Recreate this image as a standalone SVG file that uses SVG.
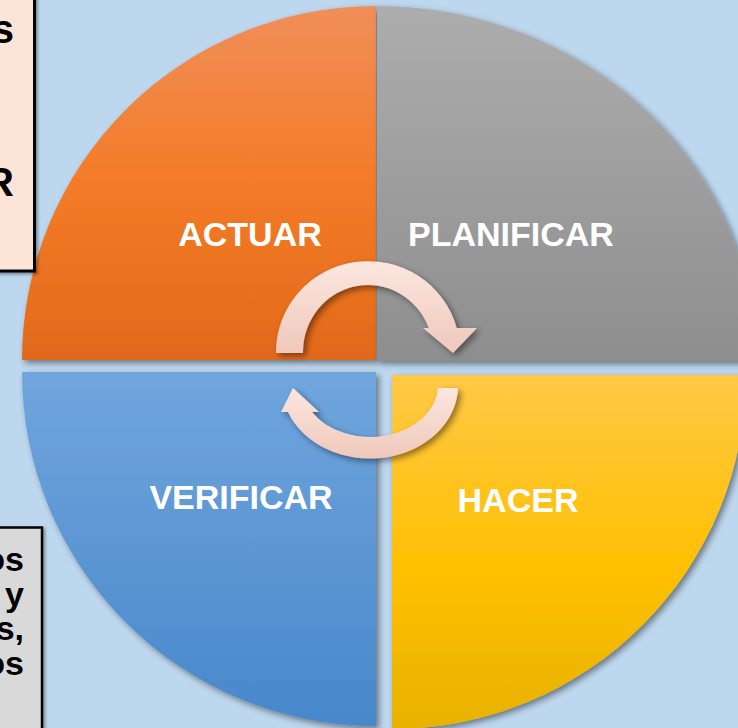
<svg xmlns="http://www.w3.org/2000/svg" width="738" height="728" viewBox="0 0 738 728">
  <defs>
    <linearGradient id="gOrange" x1="0" y1="0" x2="0" y2="1">
      <stop offset="0" stop-color="#F08F5A"/>
      <stop offset="0.5" stop-color="#F47B27"/>
      <stop offset="1" stop-color="#E2691A"/>
    </linearGradient>
    <linearGradient id="gGray" x1="0" y1="0" x2="0" y2="1">
      <stop offset="0" stop-color="#ADADAD"/>
      <stop offset="1" stop-color="#8E8E8E"/>
    </linearGradient>
    <linearGradient id="gBlue" x1="0" y1="0" x2="0" y2="1">
      <stop offset="0" stop-color="#70A6DD"/>
      <stop offset="1" stop-color="#4887CB"/>
    </linearGradient>
    <linearGradient id="gYellow" x1="0" y1="0" x2="0" y2="1">
      <stop offset="0" stop-color="#FFC847"/>
      <stop offset="0.55" stop-color="#FFC000"/>
      <stop offset="1" stop-color="#E8B200"/>
    </linearGradient>
    <linearGradient id="gArrow" x1="0" y1="0" x2="0" y2="1">
      <stop offset="0" stop-color="#FCE7DF"/>
      <stop offset="1" stop-color="#EFC8BB"/>
    </linearGradient>
    <filter id="shadow" x="-10%" y="-10%" width="130%" height="130%">
      <feDropShadow dx="3" dy="3" stdDeviation="3" flood-color="#000" flood-opacity="0.45"/>
    </filter>
    <filter id="boxShadow" x="-10%" y="-10%" width="130%" height="130%">
      <feDropShadow dx="2" dy="2" stdDeviation="1.5" flood-color="#000" flood-opacity="0.35"/>
    </filter>
  </defs>
  <style>
    .label { font-family: "Liberation Sans", Arial, sans-serif; font-weight: bold; font-size: 34px; fill: #FFFFFF; text-anchor: middle; }
    .side { font-family: "Liberation Sans", Arial, sans-serif; font-weight: bold; fill: #000000; text-anchor: end; }
    .top { font-size: 40px; }
    .bottom { font-size: 34px; }
    .quad { filter: url(#shadow); }
    .arrow { fill: url(#gArrow); filter: url(#shadow); }
  </style>
  <rect x="0" y="0" width="738" height="728" fill="#BDD7EE"/>

  <g id="actuar">
    <path class="quad" d="M376,360 L22,360 A354,354 0 0 1 376,6 Z" fill="url(#gOrange)"/>
    <text class="label" x="250" y="246">ACTUAR</text>
  </g>
  <g id="planificar">
    <path class="quad" d="M377,361 L377,6 A379,355 0 0 1 756,361 Z" fill="url(#gGray)"/>
    <text class="label" x="511" y="246">PLANIFICAR</text>
  </g>
  <g id="verificar">
    <path class="quad" d="M376,372 L376,726 A354,354 0 0 1 22,372 Z" fill="url(#gBlue)"/>
    <text class="label" x="241" y="509">VERIFICAR</text>
  </g>
  <g id="hacer">
    <path class="quad" d="M392,375 L746,375 A354,354 0 0 1 392,729 Z" fill="url(#gYellow)"/>
    <text class="label" x="518" y="512">HACER</text>
  </g>

  <g id="connectors">
    <path class="arrow" d="M276,353 A92,91 0 0 1 456.7,328 L477,328 L453,353 L423,328 L428.7,328 A65,67 0 0 0 303,353 Z"/>
    <path class="arrow" d="M458,388 A88,73 0 0 1 288,412 L281,412 L293,388 L319,412 L312,412 A68,52 0 0 0 438,388 Z"/>
  </g>

  <g id="box-top">
    <rect x="-10" y="-10" width="44.5" height="281" fill="#FCE4D6" stroke="#000" stroke-width="3" filter="url(#boxShadow)"/>
    <text class="side top" x="14" y="43">s</text>
    <text class="side top" x="14" y="196">R</text>
  </g>
  <g id="box-bottom">
    <rect x="-10" y="527.5" width="52" height="215" fill="#D9D9D9" stroke="#000" stroke-width="2.5" filter="url(#boxShadow)"/>
    <text class="side bottom" x="24" y="571">os</text>
    <text class="side bottom" x="24" y="606">y</text>
    <text class="side bottom" x="24" y="640">s,</text>
    <text class="side bottom" x="24" y="675">os</text>
  </g>
</svg>
